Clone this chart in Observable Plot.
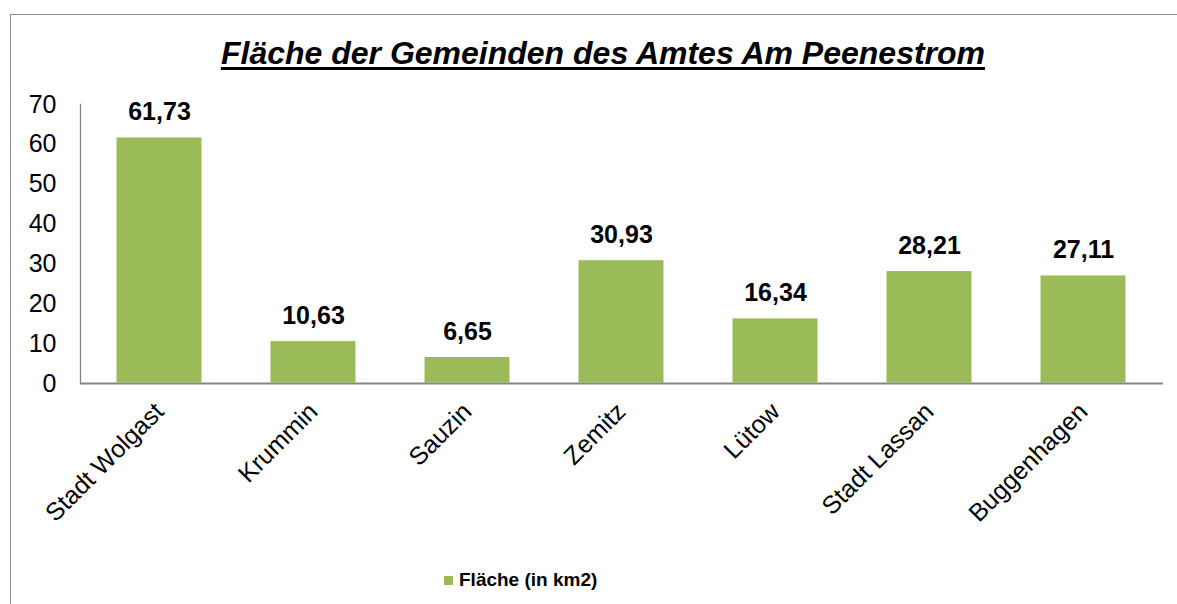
<!DOCTYPE html>
<html>
<head>
<meta charset="utf-8">
<script src="https://cdn.jsdelivr.net/npm/d3@7"></script>
<script src="https://cdn.jsdelivr.net/npm/@observablehq/plot@0.6"></script>
<style>
  html, body { margin: 0; padding: 0; background: #fff; }
  #wrap { position: relative; width: 1177px; height: 604px; overflow: hidden; font-family: "Liberation Sans", Arial, sans-serif; }
  #border { position: absolute; left: 10px; top: 14px; width: 1200px; height: 640px; border: 1px solid #8c8c8c; box-sizing: border-box; }
  #title { position: absolute; left: 0; width: 1206px; top: 35px; text-align: center; font-size: 32px; font-weight: bold; font-style: italic; text-decoration: underline; text-decoration-thickness: 3px; text-underline-offset: 3px; color: #000; }
  #chart { position: absolute; left: 0; top: 0; }
  #legend { position: absolute; left: 444px; top: 569px; font-size: 19px; font-weight: bold; color: #000; display: flex; align-items: center; }
  #legend .sw { width: 9px; height: 9px; background: #9BBB59; margin-right: 6px; }
</style>
</head>
<body>
<div id="wrap">
  <div id="border"></div>
  <div id="chart"></div>
  <div id="title">Fläche der Gemeinden des Amtes Am Peenestrom</div>
  <div id="legend"><span class="sw"></span><span>Fläche (in km2)</span></div>
</div>
<script>
const categories = ["Stadt Wolgast", "Krummin", "Sauzin", "Zemitz", "Lütow", "Stadt Lassan", "Buggenhagen"];
const values = [61.73, 10.63, 6.65, 30.93, 16.34, 28.21, 27.11];
const yTicks = [0, 10, 20, 30, 40, 50, 60, 70];

const data = categories.map((c, i) => ({ name: c, value: values[i] }));
const fmt = v => v.toFixed(2).replace(".", ",");

const chart = Plot.plot({
  width: 1177,
  height: 520,
  marginTop: 104,
  marginBottom: 137,
  marginLeft: 80,
  marginRight: 14,
  style: { fontFamily: "'Liberation Sans', Arial, sans-serif", background: "transparent", overflow: "visible" },
  x: { domain: categories, paddingInner: 0.44, paddingOuter: 0.22, label: null },
  y: { domain: [0, 70], label: null },
  marks: [
    Plot.barY(data, { x: "name", y: "value", fill: "#9BBB59", stroke: "#ffffff", strokeWidth: 1, style: "filter: drop-shadow(2px 2px 2px rgba(0,0,0,0.25))" }),
    Plot.text(data, { x: "name", y: "value", text: d => fmt(d.value), dy: -25, fontSize: 25, fontWeight: "bold", fill: "#000" }),
    Plot.frame({ anchor: "left", stroke: "#868686", strokeWidth: 1.3 }),
    Plot.ruleY([0], { stroke: "#868686", strokeWidth: 2 }),
    Plot.axisY({ ticks: yTicks, tickSize: 0, tickPadding: 24, fontSize: 25, fill: "#000", label: null }),
    Plot.axisX({ tickSize: 0, tickRotate: -45, tickPadding: 24, fontSize: 25, fill: "#000", label: null })
  ]
});
document.getElementById("chart").appendChild(chart);
</script>
</body>
</html>
